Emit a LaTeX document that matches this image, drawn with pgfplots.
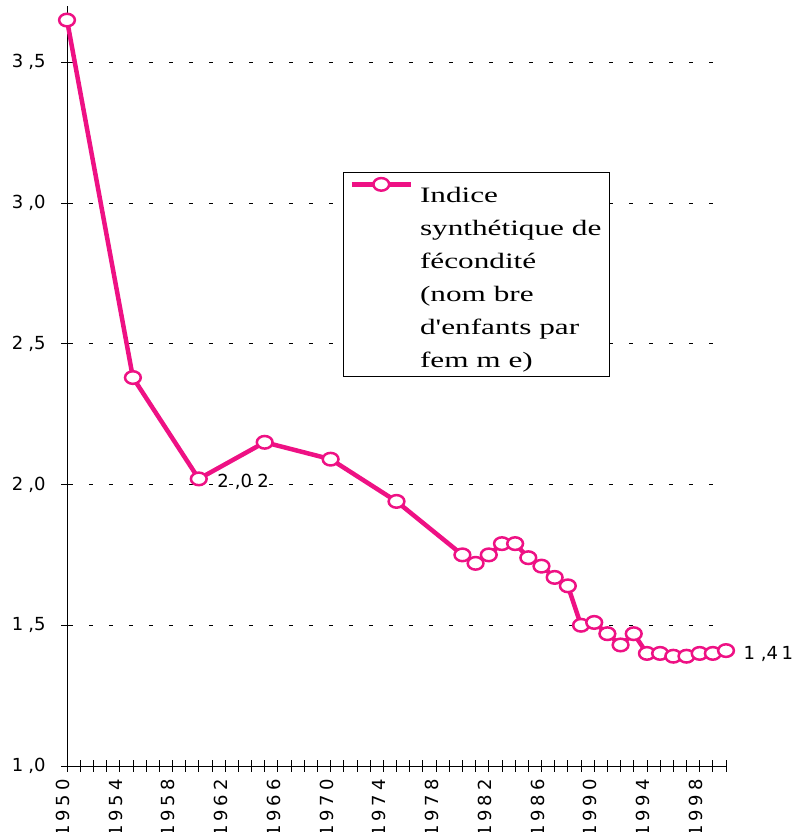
\documentclass[border=0pt]{standalone}
\usepackage{pgfplots}
\pgfplotsset{compat=1.18}
\usepackage{fontspec}
\setmainfont{Liberation Serif}
\newfontfamily\legfont[FakeStretch=1.42]{Liberation Serif}
\newfontfamily\tickfont[LetterSpace=20]{DejaVu Sans}
\newfontfamily\numfont{DejaVu Sans}
\definecolor{pinkline}{RGB}{238,17,132}
\pgfplotstableread{
year value
1950 3.65
1955 2.38
1960 2.02
1965 2.15
1970 2.09
1975 1.94
1980 1.75
1981 1.72
1982 1.75
1983 1.79
1984 1.79
1985 1.74
1986 1.71
1987 1.67
1988 1.64
1989 1.50
1990 1.51
1991 1.47
1992 1.43
1993 1.47
1994 1.40
1995 1.40
1996 1.39
1997 1.39
1998 1.40
1999 1.40
2000 1.41
}\fertility
\begin{document}
\begin{tikzpicture}
\useasboundingbox (0,0) rectangle (794pt,832pt);
\begin{axis}[
  at={(67pt,66pt)}, anchor=south west,
  scale only axis, width=659pt, height=760pt,
  xmin=1950, xmax=2000, ymin=1, ymax=3.7,
  clip=false,
  axis lines=left,
  axis line style={-, black, line width=0.8pt},
  xtick={1950,1954,1958,1962,1966,1970,1974,1978,1982,1986,1990,1994,1998},
  xticklabels={1950,1954,1958,1962,1966,1970,1974,1978,1982,1986,1990,1994,1998},
  minor xtick={1950,1951,...,2000},
  ytick={1,1.5,2,2.5,3,3.5},
  yticklabels={{1\kern5pt,0},{1\kern5pt,5},{2\kern5pt,0},{2\kern5pt,5},{3\kern5pt,0},{3\kern5pt,5}},
  tick align=center,
  major tick length=12pt, minor tick length=12pt,
  every tick/.style={black, line width=0.8pt},
  /pgf/number format/assume math mode=true,
  xticklabel style={xshift=-4pt, yshift=-4pt, rotate=90, anchor=east, font=\tickfont\fontsize{18}{18}\selectfont},
  yticklabel style={xshift=-12pt, font=\numfont\fontsize{18}{18}\selectfont},
  ymajorgrids,
  major grid style={black, line width=0.8pt, dash pattern=on 4pt off 16pt, dash phase=-2pt},
  legend image code/.code={\draw[mark repeat=2,mark phase=2,#1] plot coordinates {(0pt,0pt) (29.5pt,0pt) (59pt,0pt)};},
  legend style={at={(0.419,0.782)}, anchor=north west, draw=black, line width=0.8pt,
    font=\legfont\fontsize{22}{33}\selectfont,
    cells={anchor=north west}, nodes={align=left},
    inner xsep=6pt, inner ysep=6pt, column sep=5pt},
]
\addplot[color=pinkline, line width=4.5pt, mark=*,
  mark size=6.3pt,
  mark options={fill=white, draw=pinkline, line width=2.5pt, xscale=1.25, solid}]
  table[x=year, y=value] {\fertility};
\addlegendentry{Indice\\synthétique de\\fécondité\\(nom bre\\d'enfants par\\fem m e)}
\node[anchor=west, font=\numfont\fontsize{18}{18}\selectfont, xshift=15pt, yshift=-3pt] at (axis cs:1960,2.02) {2\kern6pt,0\kern5.4pt 2};
\node[anchor=west, font=\numfont\fontsize{18}{18}\selectfont, xshift=14pt, yshift=-3pt] at (axis cs:2000,1.41) {1\kern6pt,4\kern3.5pt 1};
\end{axis}
\end{tikzpicture}
\end{document}
